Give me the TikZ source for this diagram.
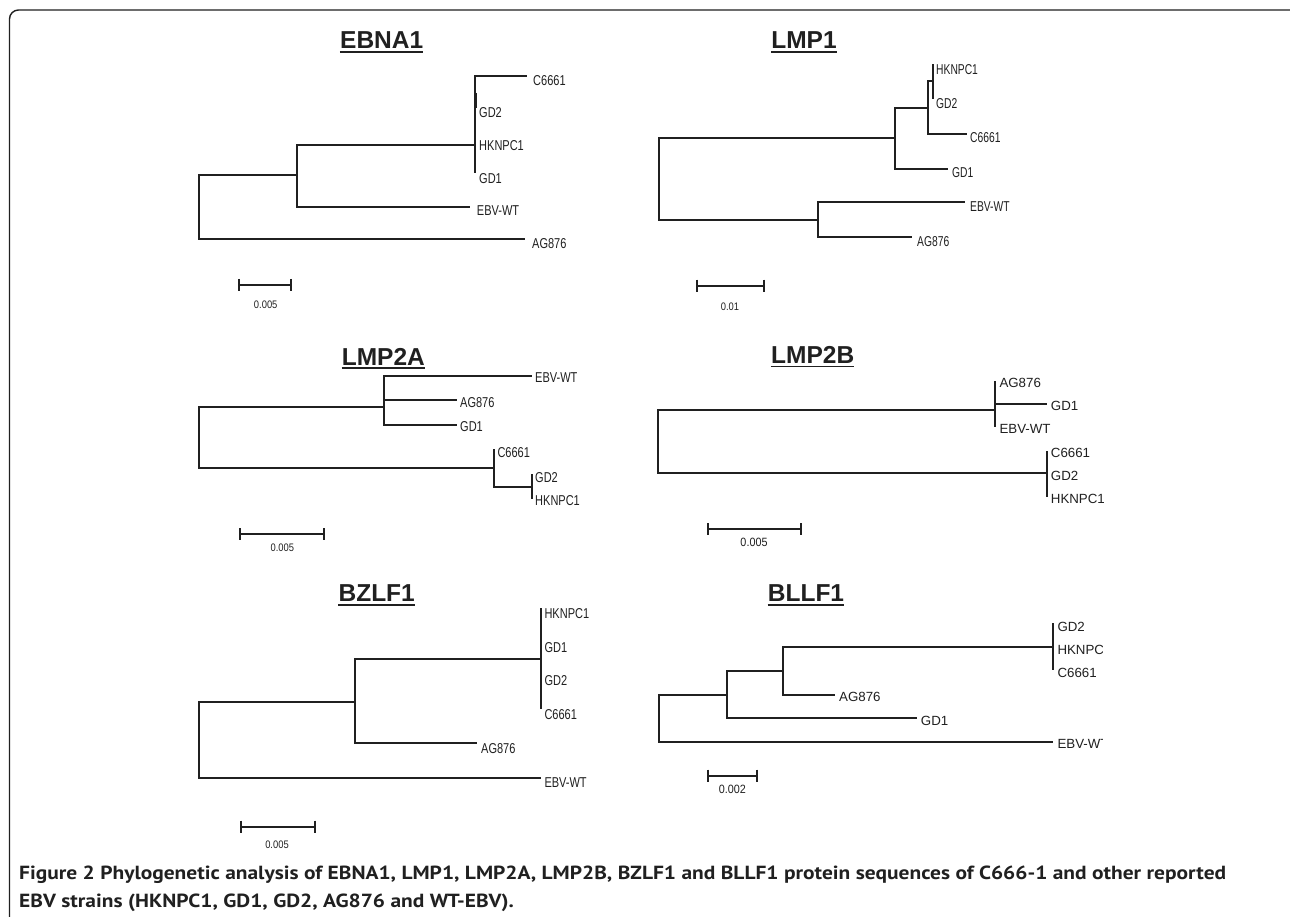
\documentclass[tikz,border=0pt]{standalone}
\usepackage{fontspec}
\usepackage{graphicx}
\setmainfont{Liberation Sans}
\newfontfamily\lblA[FakeStretch=0.77]{Liberation Sans}
\newfontfamily\lblB[FakeStretch=0.72]{Liberation Sans}
\newfontfamily\lblC{Liberation Sans}
\newfontfamily\sclA[FakeStretch=0.86]{Liberation Sans}
\newfontfamily\sclB[FakeStretch=0.9]{Liberation Sans}
\newfontfamily\capfont{PT Sans}
\definecolor{ink}{HTML}{202020}
\newsavebox\capA
\newsavebox\capB
\newlength\capw
\tikzset{
  br/.style={draw=ink, line width=1.7pt},
  frame/.style={draw=ink, line width=1.4pt, rounded corners=9pt},
  labA/.style={anchor=west, inner sep=0pt, text=ink, font=\lblA\fontsize{14.3}{16}\selectfont},
  labB/.style={anchor=west, inner sep=0pt, text=ink, font=\lblB\fontsize{14.3}{16}\selectfont},
  labC/.style={anchor=west, inner sep=0pt, text=ink, font=\lblC\fontsize{13.3}{15}\selectfont},
  sclsmall/.style={inner sep=0pt, text=ink, font=\sclA\fontsize{10.9}{12}\selectfont},
  sclbig/.style={inner sep=0pt, text=ink, font=\sclB\fontsize{12}{13}\selectfont},
  ttl/.style={anchor=base, inner sep=0pt, text=ink, font=\bfseries\fontsize{24.5}{28}\selectfont},
  uline/.style={draw=ink, line width=1.6pt},
  capline/.style={anchor=base west, inner sep=0pt, text=ink},
}
\newcommand{\ttlunder}[1]{\draw[uline] ([yshift=-3pt]#1.base west) -- ([yshift=-3pt]#1.base east);}
\newcommand{\scalebarticks}[2]{%
  \draw[br] ([yshift=6pt]#1) -- ([yshift=-6pt]#1);
  \draw[br] ([yshift=6pt]#2) -- ([yshift=-6pt]#2);
  \draw[br] (#1) -- (#2);}
\begin{document}
\begin{tikzpicture}[x=1pt,y=-1pt]
\useasboundingbox (0,0) rectangle (1290,917);
\fill[white] (0,0) rectangle (1290,917);
% frame
\draw[frame] (9.5,917) -- (9.5,10) -- (1290,10);

% ================= EBNA1 =================
\node[ttl] (tE) at (381.7,49) {EBNA1};
\ttlunder{tE}
\coordinate (e-r) at (199,207);
\coordinate (e-n1) at (297,175);
\coordinate (e-n2) at (475,145);
\coordinate (e-C) at (527,76);
\coordinate (e-g2a) at (476.5,93);
\coordinate (e-g2b) at (476.5,108);
\coordinate (e-GD1) at (475,173);
\coordinate (e-EBV) at (470,207);
\coordinate (e-AG) at (525,239);
\draw[br] (e-r) |- (e-n1);
\draw[br] (e-r) |- (e-AG);
\draw[br] (e-n1) |- (e-n2);
\draw[br] (e-n1) |- (e-EBV);
\draw[br] (e-n2) |- (e-C);
\draw[br] (e-n2) |- (e-GD1);
\draw[br] (e-g2a) -- (e-g2b);
\node[labA] (e-lC) at (533,80.5) {C6661};
\node[labA] (e-lG2) at (479,113) {GD2};
\node[labA] (e-lH) at (479,145.7) {HKNPC1};
\node[labA] (e-lG1) at (479,179) {GD1};
\node[labA] (e-lE) at (476.7,211) {EBV-WT};
\node[labA] (e-lA) at (532,244) {AG876};
\coordinate (e-s1) at (239.3,285);
\coordinate (e-s2) at (291,285);
\scalebarticks{e-s1}{e-s2}
\node[sclsmall] (e-sl) at (265.7,305) {0.005};

% ================= LMP1 =================
\node[ttl] (tL1) at (804,49) {LMP1};
\ttlunder{tL1}
\coordinate (m-r) at (659,180);
\coordinate (m-a) at (895,138);
\coordinate (m-b) at (818,220);
\coordinate (m-c) at (928,108);
\coordinate (m-d) at (933,81);
\coordinate (m-GD1) at (948,169);
\coordinate (m-C) at (967,134);
\coordinate (m-H) at (933,64);
\coordinate (m-G2) at (933,99);
\coordinate (m-EBV) at (965,202);
\coordinate (m-AG) at (912,237);
\draw[br] (m-r) |- (m-a);
\draw[br] (m-r) |- (m-b);
\draw[br] (m-a) |- (m-GD1);
\draw[br] (m-a) |- (m-c);
\draw[br] (m-c) |- (m-C);
\draw[br] (m-c) |- (m-d);
\draw[br] (m-d) |- (m-H);
\draw[br] (m-d) |- (m-G2);
\draw[br] (m-b) |- (m-EBV);
\draw[br] (m-b) |- (m-AG);
\node[labB] (m-lH) at (936,70) {HKNPC1};
\node[labB] (m-lG2) at (936,104) {GD2};
\node[labB] (m-lC) at (970,138) {C6661};
\node[labB] (m-lG1) at (952,173) {GD1};
\node[labB] (m-lE) at (970,207) {EBV-WT};
\node[labB] (m-lA) at (917,242) {AG876};
\coordinate (m-s1) at (697.3,285.7);
\coordinate (m-s2) at (764,285.7);
\scalebarticks{m-s1}{m-s2}
\node[sclsmall] (m-sl) at (730,306.7) {0.01};

% ================= LMP2A =================
\node[ttl] (tL2A) at (383.3,365) {LMP2A};
\ttlunder{tL2A}
\coordinate (p-r) at (199,437);
\coordinate (p-a) at (384,406.7);
\coordinate (p-b) at (494,468.3);
\coordinate (p-c) at (531.7,486.7);
\coordinate (p-EBV) at (531.7,375.7);
\coordinate (p-AG) at (456.7,400);
\coordinate (p-GD1) at (456.7,425);
\coordinate (p-C) at (494,449);
\coordinate (p-G2) at (531.7,474);
\coordinate (p-H) at (531.7,499);
\draw[br] (p-r) |- (p-a);
\draw[br] (p-r) |- (p-b);
\draw[br] (p-a) |- (p-EBV);
\draw[br] (p-a) |- (p-AG);
\draw[br] (p-a) |- (p-GD1);
\draw[br] (p-b) |- (p-C);
\draw[br] (p-b) |- (p-c);
\draw[br] (p-c) |- (p-G2);
\draw[br] (p-c) |- (p-H);
\node[labA] (p-lE) at (535,378) {EBV-WT};
\node[labA] (p-lA) at (460,403) {AG876};
\node[labA] (p-lG1) at (460,426.7) {GD1};
\node[labA] (p-lC) at (497.3,452.3) {C6661};
\node[labA] (p-lG2) at (535,477.3) {GD2};
\node[labA] (p-lH) at (535,500.7) {HKNPC1};
\coordinate (p-s1) at (240,534.3);
\coordinate (p-s2) at (324.3,534.3);
\scalebarticks{p-s1}{p-s2}
\node[sclsmall] (p-sl) at (282.3,547.7) {0.005};

% ================= LMP2B =================
\node[ttl] (tL2B) at (812.7,363.3) {LMP2B};
\ttlunder{tL2B}
\coordinate (q-r) at (658.3,441);
\coordinate (q-a) at (995,410);
\coordinate (q-b) at (1046.7,473.3);
\coordinate (q-AG) at (995,381);
\coordinate (q-GD1) at (1046.7,404);
\coordinate (q-EBV) at (995,426.7);
\coordinate (q-C) at (1046.7,450.7);
\coordinate (q-H) at (1046.7,496.7);
\draw[br] (q-r) |- (q-a);
\draw[br] (q-r) |- (q-b);
\draw[br] (q-a) |- (q-AG);
\draw[br] (q-a) |- (q-EBV);
\draw[br] (q-a |- q-GD1) -- (q-GD1);
\draw[br] (q-b) |- (q-C);
\draw[br] (q-b) |- (q-H);
\node[labC] (q-lA) at (999.3,383.3) {AG876};
\node[labC] (q-lG1) at (1050.7,406) {GD1};
\node[labC] (q-lE) at (999.3,429) {EBV-WT};
\node[labC] (q-lC) at (1050.7,452.7) {C6661};
\node[labC] (q-lG2) at (1050.7,475.7) {GD2};
\node[labC] (q-lH) at (1050.7,499) {HKNPC1};
\coordinate (q-s1) at (707.7,529.3);
\coordinate (q-s2) at (800.7,529.3);
\scalebarticks{q-s1}{q-s2}
\node[sclbig] (q-sl) at (754,542.7) {0.005};

% ================= BZLF1 =================
\node[ttl] (tBZ) at (376.7,601.7) {BZLF1};
\ttlunder{tBZ}
\coordinate (z-r) at (199,740);
\coordinate (z-a) at (355,701.7);
\coordinate (z-b) at (541,659);
\coordinate (z-H) at (541,608.3);
\coordinate (z-C) at (541,709.3);
\coordinate (z-AG) at (476.7,743.3);
\coordinate (z-EBV) at (541,777.7);
\draw[br] (z-r) |- (z-a);
\draw[br] (z-r) |- (z-EBV);
\draw[br] (z-a) |- (z-b);
\draw[br] (z-a) |- (z-AG);
\draw[br] (z-b) |- (z-H);
\draw[br] (z-b) |- (z-C);
\node[labA] (z-lH) at (544.3,613.3) {HKNPC1};
\node[labA] (z-lG1) at (544.3,647.3) {GD1};
\node[labA] (z-lG2) at (544.3,681) {GD2};
\node[labA] (z-lC) at (544.3,714.3) {C6661};
\node[labA] (z-lA) at (481,749) {AG876};
\node[labA] (z-lE) at (544.3,782.3) {EBV-WT};
\coordinate (z-s1) at (241,826.7);
\coordinate (z-s2) at (315,826.7);
\scalebarticks{z-s1}{z-s2}
\node[sclsmall] (z-sl) at (277,845) {0.005};

% ================= BLLF1 =================
\node[ttl] (tBL) at (806,601.7) {BLLF1};
\ttlunder{tBL}
\coordinate (l-r) at (659,718.7);
\coordinate (l-a) at (727.3,695);
\coordinate (l-b) at (782.7,670.7);
\coordinate (l-c) at (1053.3,647.3);
\coordinate (l-G2) at (1053.3,623.3);
\coordinate (l-C) at (1053.3,670);
\coordinate (l-AG) at (835,695);
\coordinate (l-GD1) at (916.7,718.3);
\coordinate (l-EBV) at (1053.3,742.3);
\draw[br] (l-r) |- (l-a);
\draw[br] (l-r) |- (l-EBV);
\draw[br] (l-a) |- (l-b);
\draw[br] (l-a) |- (l-GD1);
\draw[br] (l-b) |- (l-c);
\draw[br] (l-b) |- (l-AG);
\draw[br] (l-c) |- (l-G2);
\draw[br] (l-c) |- (l-C);
\begin{scope}
\clip (1000,600) rectangle (1102.5,760);
\node[labC] (l-lG2) at (1057.3,626.7) {GD2};
\node[labC] (l-lH) at (1057.3,650) {HKNPC1};
\node[labC] (l-lC) at (1057.3,673.3) {C6661};
\node[labC] (l-lE) at (1057.3,744) {EBV-WT};
\end{scope}
\node[labC] (l-lA) at (839,697.3) {AG876};
\node[labC] (l-lG1) at (920.7,720.7) {GD1};
\coordinate (l-s1) at (708.3,775.7);
\coordinate (l-s2) at (756.7,775.7);
\scalebarticks{l-s1}{l-s2}
\node[sclbig] (l-sl) at (732.3,789) {0.002};

% ================= caption =================
\node[capline] (cap1) at (19,879) {%
  \sbox\capA{\fontsize{19}{22}\selectfont\capfont\bfseries Figure 2 Phylogenetic analysis of EBNA1, LMP1, LMP2A, LMP2B, BZLF1 and BLLF1 protein sequences of C666-1 and other reported}%
  \setlength\capw{\wd\capA}%
  \pgfmathsetmacro\capf{1207/\capw}%
  \xdef\capfG{\capf}%
  \scalebox{\capf}[1]{\usebox\capA}};
\node[capline] (cap2) at (19,907) {%
  \sbox\capB{\fontsize{19}{22}\selectfont\capfont\bfseries EBV strains (HKNPC1, GD1, GD2, AG876 and WT-EBV).}%
  \scalebox{\capfG}[1]{\usebox\capB}};
\end{tikzpicture}
\end{document}
